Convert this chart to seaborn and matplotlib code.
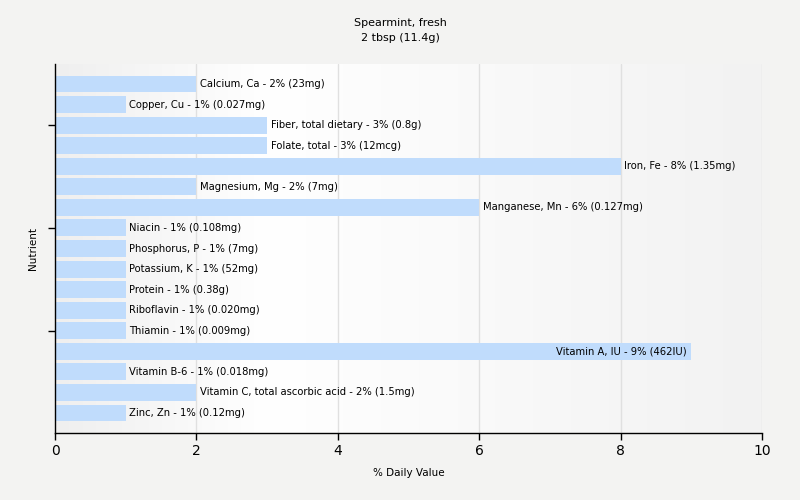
import numpy as np
import pandas as pd
import seaborn as sns
import matplotlib.pyplot as plt
from matplotlib.colors import LinearSegmentedColormap

nutrients = [
    "Calcium, Ca", "Copper, Cu", "Fiber, total dietary", "Folate, total",
    "Iron, Fe", "Magnesium, Mg", "Manganese, Mn", "Niacin", "Phosphorus, P",
    "Potassium, K", "Protein", "Riboflavin", "Thiamin", "Vitamin A, IU",
    "Vitamin B-6", "Vitamin C, total ascorbic acid", "Zinc, Zn",
]
daily_value = [2, 1, 3, 3, 8, 2, 6, 1, 1, 1, 1, 1, 1, 9, 1, 2, 1]
amounts = [
    "23mg", "0.027mg", "0.8g", "12mcg", "1.35mg", "7mg", "0.127mg", "0.108mg",
    "7mg", "52mg", "0.38g", "0.020mg", "0.009mg", "462IU", "0.018mg", "1.5mg",
    "0.12mg",
]

df = pd.DataFrame({"Nutrient": nutrients, "% Daily Value": daily_value, "amount": amounts})

sns.set_style("white")
plt.rcParams['font.family'] = ['DejaVu Sans']
plt.rcParams['text.color'] = 'black'
plt.rcParams['axes.labelcolor'] = 'black'
plt.rcParams['xtick.color'] = 'black'
plt.rcParams['ytick.color'] = 'black'

fig = plt.figure(figsize=(8, 5), dpi=100, facecolor="#f3f3f2")
ax = fig.add_axes([0.06875, 0.134, 0.88375, 0.738])

# background gradient of the plot area
grad_cmap = LinearSegmentedColormap.from_list(
    "bg", [(0, "#efefef"), (0.3, "#ffffff"), (1, "#f2f2f2")])
ax.imshow(np.linspace(0, 1, 256).reshape(1, -1), cmap=grad_cmap, aspect="auto",
          extent=(0, 1, 0, 1), transform=ax.transAxes, zorder=0)

sns.barplot(data=df, x="% Daily Value", y="Nutrient", orient="h",
            color="#c0dcfc", saturation=1, width=0.82, linewidth=0,
            edgecolor="none", ax=ax, zorder=2)

ax.set_xlim(0, 10)
ax.set_ylim(16.97, -0.97)
ax.set_xticks([0, 2, 4, 6, 8, 10])
for gx in [2, 4, 6, 8, 10]:
    ax.axvline(gx, color="#e0e0e0", lw=1, zorder=1)

ax.set_yticks([2, 7, 12])
ax.set_yticklabels([])
ax.tick_params(axis="y", length=5, width=1, color="black", direction="out", left=True)
ax.tick_params(axis="x", length=5, width=1, color="black", direction="out",
               bottom=True, labelsize=10, pad=3)

for s in ["top", "right"]:
    ax.spines[s].set_visible(False)
for s in ["left", "bottom"]:
    ax.spines[s].set_color("black")
    ax.spines[s].set_linewidth(1)

for i, (n, v, a) in enumerate(zip(nutrients, daily_value, amounts)):
    label = f"{n} - {v}% ({a})"
    if v > 8.5:
        ax.text(v - 0.07, i, label, ha="right", va="center", fontsize=7.2, zorder=3)
    else:
        ax.text(v + 0.05, i, label, ha="left", va="center", fontsize=7.2, zorder=3)

ax.set_xlabel("% Daily Value", fontsize=7.5, labelpad=7)
ax.set_ylabel("Nutrient", fontsize=7.5, labelpad=4)
fig.text(0.5, 0.965, "Spearmint, fresh\n2 tbsp (11.4g)", ha="center", va="top",
         fontsize=8, linespacing=1.7)

fig.savefig("out.png", dpi=100, facecolor=fig.get_facecolor())
